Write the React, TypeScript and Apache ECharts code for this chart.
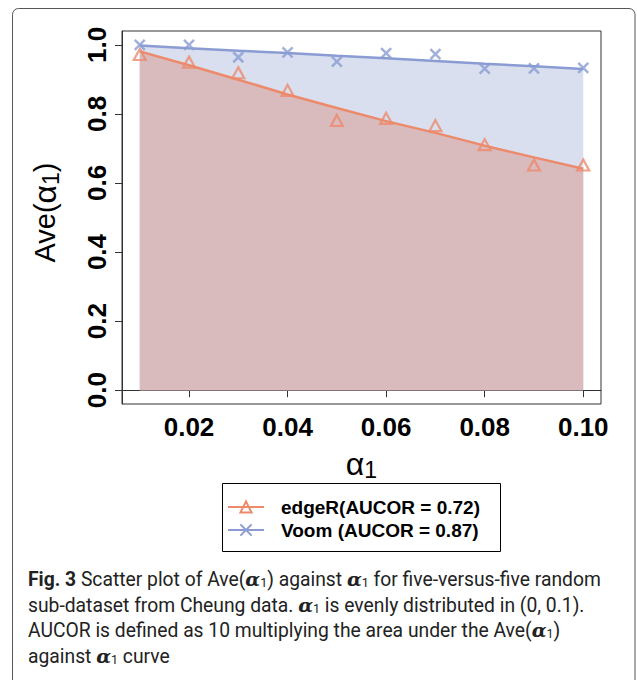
import React, { useEffect, useRef } from "react";
import * as echarts from "echarts";

const alpha1 = [0.01, 0.02, 0.03, 0.04, 0.05, 0.06, 0.07, 0.08, 0.09, 0.1];
const edgeRPoints = [0.972, 0.95, 0.919, 0.868, 0.781, 0.787, 0.766, 0.711, 0.652, 0.652];
const voomPoints = [1.0, 1.0, 0.964, 0.978, 0.951, 0.976, 0.973, 0.931, 0.932, 0.933];
const edgeRCurve = [0.981, 0.941, 0.899, 0.856, 0.817, 0.779, 0.745, 0.708, 0.674, 0.641];
const voomCurve = [0.998, 0.99, 0.983, 0.976, 0.968, 0.961, 0.953, 0.945, 0.938, 0.93];
const xTicks = [0.02, 0.04, 0.06, 0.08, 0.1];
const yTicks = [0, 0.2, 0.4, 0.6, 0.8, 1.0];
const legendNames = ["edgeR(AUCOR = 0.72)", "Voom (AUCOR = 0.87)"];
const captionLines = [
  "{b|Fig. 3} Scatter plot of Ave({a|α}{s|1}) against {a|α}{s|1} for five-versus-five random",
  "sub-dataset from Cheung data. {a|α}{s|1} is evenly distributed in (0, 0.1).",
  "AUCOR is defined as 10 multiplying the area under the Ave({a|α}{s|1})",
  "against {a|α}{s|1} curve",
];

const EDGER = "#ec8a6b";
const VOOM = "#8a9cd3";
const PINK = "#d9bbbd";
const BLUE = "#d9dfee";
const XPATH = "path://M0,0L10,10M0,10L10,0";
const FONT = "'Liberation Sans', Arial, sans-serif";
const CAP_FONT = "Roboto, 'Noto Sans', sans-serif";

export default function App() {
  const ref = useRef<HTMLDivElement>(null);
  useEffect(() => {
    document.body.style.margin = "0";
    const chart = echarts.init(ref.current!, null, { renderer: "svg" });
    const capRich = {
      b: { fontWeight: "bold", fontSize: 19.3, fontFamily: CAP_FONT, fill: "#222" },
      a: { fontWeight: "bold", fontStyle: "italic", fontSize: 19.3, fontFamily: "'DejaVu Serif', serif", fill: "#222" },
      s: { fontSize: 12.5, fontFamily: CAP_FONT, fill: "#222", verticalAlign: "bottom", padding: [6, 0, 0, 0] },
    };
    const nameRich = {
      t: { fontSize: 29, fontFamily: FONT, color: "#000" },
      a: { fontSize: 32, fontFamily: FONT, color: "#000" },
      s: { fontSize: 23, fontFamily: FONT, color: "#000", verticalAlign: "bottom", padding: [12, 0, 0, 0] },
    };
    const option: any = {
      animation: false,
      textStyle: { fontFamily: FONT },
      grid: {
        left: 122,
        right: 36,
        top: 31,
        bottom: 276,
        show: true,
        borderColor: "#333",
        borderWidth: 1,
        backgroundColor: "transparent",
      },
      xAxis: {
        type: "value",
        min: 0.0064,
        max: 0.1036,
        name: "{a|α}{s|1}",
        nameLocation: "middle",
        nameGap: 42,
        nameTextStyle: { rich: nameRich },
        axisLine: { show: true, lineStyle: { color: "#333", width: 1 } },
        axisTick: { show: true, customValues: xTicks, length: 7, lineStyle: { color: "#333" } },
        axisLabel: {
          customValues: xTicks,
          formatter: (v: number) => v.toFixed(2),
          fontSize: 26,
          fontWeight: "bold",
          color: "#000",
          margin: 10,
        },
        splitLine: { show: false },
      },
      yAxis: {
        type: "value",
        min: -0.04,
        max: 1.04,
        name: "{t|Ave(}{a|α}{s|1}{t|)}",
        nameLocation: "middle",
        nameRotate: 90,
        nameGap: 60,
        nameTextStyle: { rich: nameRich, padding: [0, 0, 0, 10] },
        axisLine: { show: true, lineStyle: { color: "#333", width: 1 } },
        axisTick: { show: true, customValues: yTicks, length: 7, lineStyle: { color: "#333" } },
        axisLabel: {
          customValues: yTicks,
          formatter: (v: number) => v.toFixed(1),
          rotate: 90,
          fontSize: 26,
          fontWeight: "bold",
          color: "#000",
          margin: 12,
        },
        splitLine: { show: false },
      },
      legend: {
        data: legendNames,
        orient: "vertical",
        left: 227,
        top: 497,
        padding: 0,
        itemWidth: 36,
        itemHeight: 14,
        itemGap: 3,
        selectedMode: false,
        textStyle: { fontSize: 19, fontWeight: "bold", color: "#000", lineHeight: 20, padding: [0, 0, 0, 12], fontFamily: FONT },
      },
      series: [
        {
          type: "line",
          name: legendNames[1],
          data: alpha1.map((x, i) => [x, voomCurve[i]]),
          showSymbol: false,
          symbol: XPATH,
          symbolSize: 10,
          itemStyle: { color: "rgba(0,0,0,0)", borderColor: VOOM, borderWidth: 2.5 },
          lineStyle: { color: VOOM, width: 2.5 },
          areaStyle: { color: BLUE, opacity: 1 },
          z: 2,
        },
        {
          type: "line",
          name: legendNames[0],
          data: alpha1.map((x, i) => [x, edgeRCurve[i]]),
          showSymbol: false,
          symbol: "triangle",
          symbolSize: [12, 11],
          itemStyle: { color: "rgba(0,0,0,0)", borderColor: EDGER, borderWidth: 2.2 },
          lineStyle: { color: EDGER, width: 2.5 },
          areaStyle: { color: PINK, opacity: 1 },
          z: 3,
        },
        {
          type: "scatter",
          name: "Voom points",
          data: alpha1.map((x, i) => [x, voomPoints[i]]),
          symbol: XPATH,
          symbolSize: 10,
          itemStyle: { color: "rgba(0,0,0,0)", borderColor: VOOM, borderWidth: 2.5 },
          z: 5,
        },
        {
          type: "scatter",
          name: "edgeR points",
          data: alpha1.map((x, i) => [x, edgeRPoints[i]]),
          symbol: "triangle",
          symbolSize: [12, 11],
          itemStyle: { color: "rgba(0,0,0,0)", borderColor: EDGER, borderWidth: 2.2 },
          z: 5,
        },
      ],
      graphic: [
        {
          type: "rect",
          shape: { x: 12.5, y: 8.5, width: 622.5, height: 720, r: 6 },
          style: { fill: "none", stroke: "#555", lineWidth: 1 },
          silent: true,
        },
        {
          type: "rect",
          shape: { x: 222.5, y: 483.5, width: 278, height: 68 },
          style: { fill: "none", stroke: "#000", lineWidth: 1 },
          silent: true,
        },
        ...captionLines.map((t, i) => ({
          type: "text",
          left: 28,
          top: 570 + i * 25.7,
          style: { text: t, fontSize: 19.3, fontFamily: CAP_FONT, fill: "#222", rich: capRich },
          silent: true,
        })),
      ],
    };
    chart.setOption(option);
    return () => chart.dispose();
  }, []);
  return <div ref={ref} style={{ width: 637, height: 680 }} />;
}
